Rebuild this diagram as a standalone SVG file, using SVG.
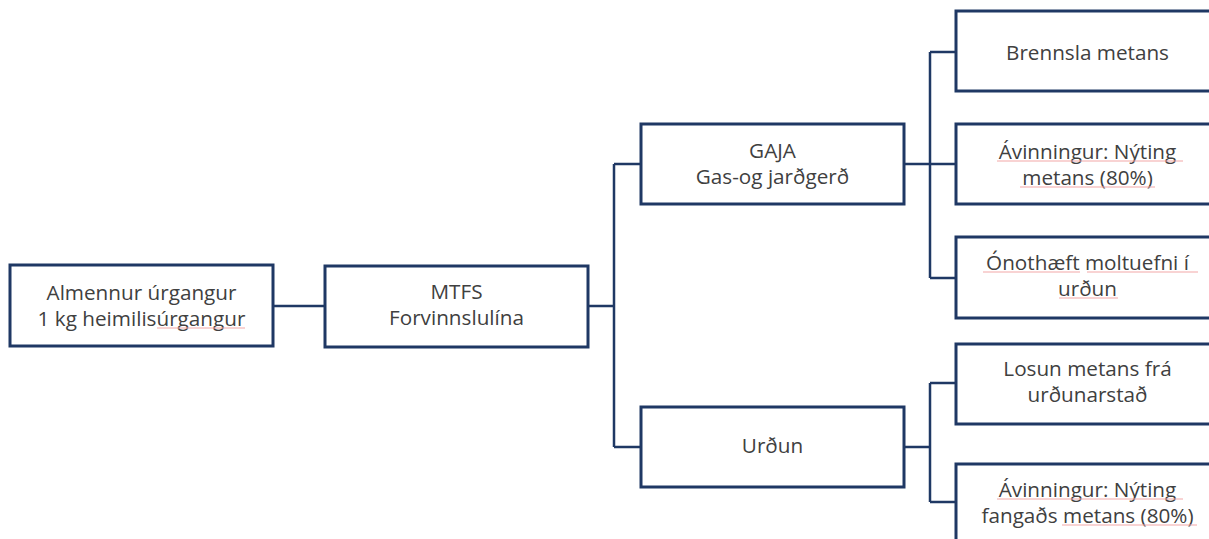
<svg xmlns="http://www.w3.org/2000/svg" width="1209" height="539" viewBox="0 0 1209 539">
<style>
.box{fill:#ffffff;stroke:#1F3864;stroke-width:3}
.con{fill:none;stroke:#1F3864;stroke-width:2.5}
.t{font-family:"Open Sans","Noto Sans",sans-serif;font-size:20.7px;fill:#404040;text-anchor:middle}
.sq{fill:none;stroke:#F2A7A7;stroke-width:1}
</style>
<rect width="1209" height="539" fill="#ffffff"/>
<g id="connectors">
<path class="con" d="M273,306 H325"/>
<path class="con" d="M588,306 H614 M614,164 V447 M614,164 H641 M614,447 H641"/>
<path class="con" d="M904,164 H956 M930,52 V278 M930,52 H956 M930,278 H956"/>
<path class="con" d="M904,447 H930 M930,383 V502 M930,383 H956 M930,502 H956"/>
</g>
<g id="n1">
<rect class="box" x="10" y="265" width="263" height="81"/>
<text class="t" x="141.5" y="300">Almennur úrgangur</text>
<text class="t" x="141.5" y="326">1 kg heimilisúrgangur</text>
</g>
<g id="n2">
<rect class="box" x="325" y="266" width="263" height="81"/>
<text class="t" x="456.5" y="299">MTFS</text>
<text class="t" x="456.5" y="325">Forvinnslulína</text>
</g>
<g id="n3">
<rect class="box" x="641" y="124" width="263" height="80"/>
<text class="t" x="772.5" y="158">GAJA</text>
<text class="t" x="772.5" y="184">Gas-og jarðgerð</text>
</g>
<g id="n4">
<rect class="box" x="641" y="407" width="263" height="80"/>
<text class="t" x="772.5" y="453">Urðun</text>
</g>
<g id="n5">
<rect class="box" x="956" y="11" width="263" height="80"/>
<text class="t" x="1087.5" y="60">Brennsla metans</text>
</g>
<g id="n6">
<rect class="box" x="956" y="124" width="263" height="80"/>
<text class="t" x="1087.5" y="159">Ávinningur: Nýting</text>
<text class="t" x="1087.5" y="185">metans (80%)</text>
</g>
<g id="n7">
<rect class="box" x="956" y="237" width="263" height="81"/>
<text class="t" x="1087.5" y="270">Ónothæft moltuefni í</text>
<text class="t" x="1087.5" y="296">urðun</text>
</g>
<g id="n8">
<rect class="box" x="956" y="344" width="263" height="80"/>
<text class="t" x="1087.5" y="376">Losun metans frá</text>
<text class="t" x="1087.5" y="402">urðunarstað</text>
</g>
<g id="n9">
<rect class="box" x="956" y="464" width="263" height="90"/>
<text class="t" x="1087.5" y="497">Ávinningur: Nýting</text>
<text class="t" x="1087.5" y="523">fangaðs metans (80%)</text>
</g>
<g id="spellcheck">
<path class="sq" d="M157,328 H245"/>
<path class="sq" d="M997,161 H1183 M1020,187 H1155"/>
<path class="sq" d="M983,272 H1080 M1087,272 H1198 M1059,298 H1118"/>
<path class="sq" d="M997,499 H1183 M1062,525 H1197"/>
</g>
</svg>
